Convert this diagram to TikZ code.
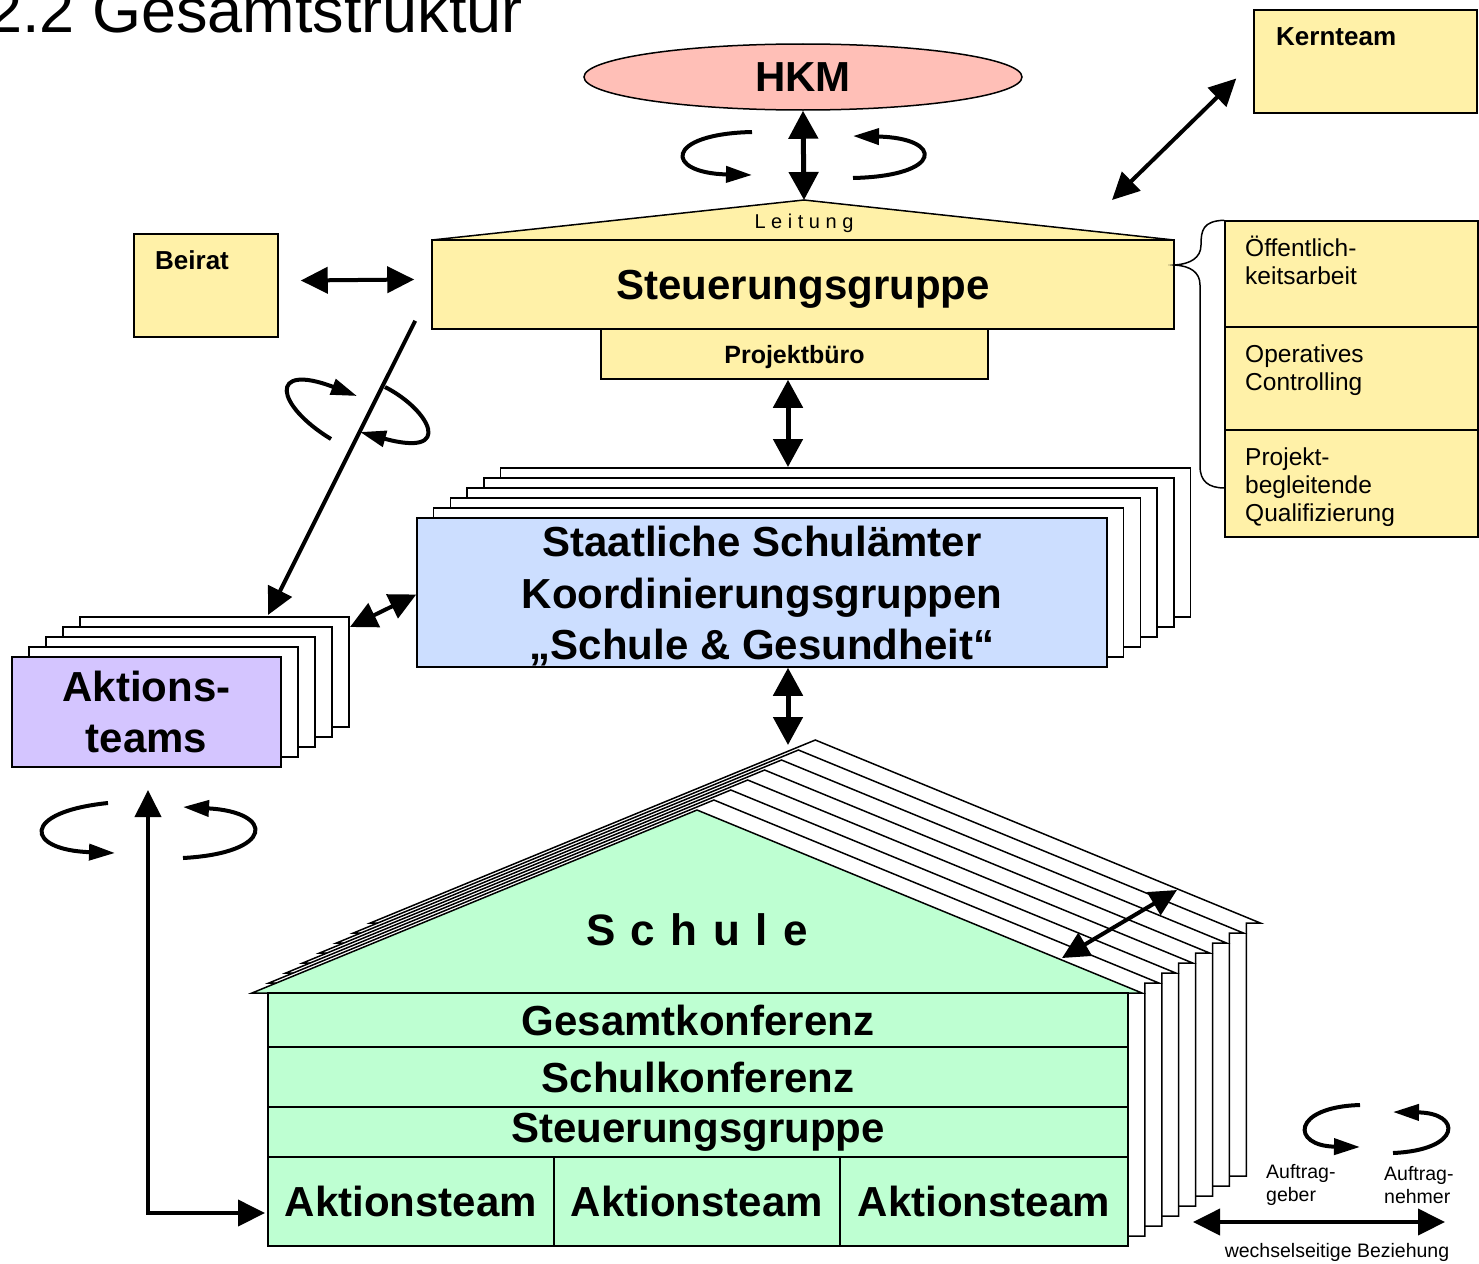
\documentclass[tikz,border=0pt]{standalone}
\usepackage{fontspec}
\setmainfont{Liberation Sans}
\usetikzlibrary{shapes.geometric, arrows.meta}

\definecolor{hkmred}{RGB}{255,191,183}
\definecolor{leityellow}{RGB}{255,241,168}
\definecolor{amtblue}{RGB}{204,222,255}
\definecolor{teamlilac}{RGB}{212,197,255}
\definecolor{schoolgreen}{RGB}{190,255,210}

\newcommand\bigbold{\fontsize{42}{51.5}\selectfont\bfseries}
\newcommand\smallbold{\fontsize{26}{30}\selectfont\bfseries}
\newcommand\plainsize{\fontsize{24.5}{28}\selectfont}
\newcommand\legendsize{\fontsize{19.5}{23.5}\selectfont}

\begin{document}
\begin{tikzpicture}[
    x=1pt, y=-1pt,
    box/.style={rectangle, draw, line width=1.5pt, inner sep=0pt, align=center},
    yellowbox/.style={box, fill=leityellow},
    stackbox/.style={box, fill=white},
    houserow/.style={box, fill=schoolgreen, minimum width=860pt, font=\bigbold},
    dbl/.style={line width=4pt, >={Triangle[length=27pt,width=26pt]}, <->},
    bigdbl/.style={line width=5pt, >={Triangle[length=28pt,width=29pt]}, <->},
    turn/.style={line width=4pt, -{Triangle[length=26pt,width=16pt]}}
]
\useasboundingbox (0,0) rectangle (1479,1263);
\clip (0,0) rectangle (1479,1263);

% Titel
\node[anchor=base west, inner sep=0pt, font=\fontsize{63}{70}\selectfont] (title) at (-13,33) {2.2 Gesamtstruktur};

% HKM und Leitung
\node[ellipse, draw, line width=1.5pt, fill=hkmred, minimum width=438pt, minimum height=66pt, inner sep=0pt, font=\bigbold] (hkm) at (803,77) {HKM};
\draw[line width=1.5pt, fill=leityellow] (432,240) -- (804,200) coordinate (leit) -- (1174,240) -- cycle;
\node[font=\fontsize{20}{24}\selectfont] (leitung) at (804,223) {L e i t u n g};
\node[yellowbox, minimum width=742pt, minimum height=89pt, text depth=0pt, font=\bigbold] (sg) at (803,284.5) {Steuerungsgruppe};
\node[yellowbox, minimum width=387pt, minimum height=50pt, text depth=0pt, font=\fontsize{25}{30}\selectfont\bfseries] (pb) at (794.5,354) {Projektbüro};

% Kernteam und Beirat
\node[yellowbox, minimum width=223pt, minimum height=103pt] (kern) at (1365.5,61.5) {};
\node[anchor=north west, inner sep=0pt, font=\smallbold] (kernlabel) at (1276,27) {Kernteam};
\node[yellowbox, minimum width=144pt, minimum height=103pt] (beirat) at (206,285.5) {};
\node[anchor=north west, inner sep=0pt, font=\smallbold] (beiratlabel) at (155,250) {Beirat};

% Aufgaben rechts
\node[yellowbox, minimum width=253pt, minimum height=106pt] (oeff) at (1351.5,274) {};
\node[yellowbox, minimum width=253pt, minimum height=103pt] (ctrl) at (1351.5,378.5) {};
\node[yellowbox, minimum width=253pt, minimum height=107pt] (qual) at (1351.5,483.5) {};
\node[anchor=north west, inner sep=0pt, align=left, font=\plainsize] (oefflabel) at (1245,236) {Öffentlich-\\keitsarbeit};
\node[anchor=north west, inner sep=0pt, align=left, font=\plainsize] (ctrllabel) at (1245,345) {Operatives\\Controlling};
\node[anchor=north west, inner sep=0pt, align=left, font=\plainsize] (quallabel) at (1245,448) {Projekt-\\begleitende\\Qualifizierung};
\draw[line width=1.5pt] (oeff.north west) .. controls (1203,221) and (1201,230) .. (1201,245)
    .. controls (1201,258) and (1190,264) .. (sg.east |- 0,265)
    .. controls (1190,266) and (1200,272) .. (1200,285) -- (1200,466)
    .. controls (1200,481) and (1208,488) .. (1225,488);

% Staatliche Schulaemter
\foreach \i in {5,...,1}
    \node[stackbox, minimum width=690pt, minimum height=149pt] (amt\i) at (762+16.7*\i, 592.5-10*\i) {};
\node[box, fill=amtblue, minimum width=690pt, minimum height=149pt, font=\bigbold] (amt) at (762,592.5) {\rule{0pt}{38pt}Staatliche Schulämter\\Koordinierungsgruppen\\„Schule \& Gesundheit“};

% Aktionsteams
\foreach \i in {4,...,1}
    \node[stackbox, minimum width=269pt, minimum height=110pt] (team\i) at (146.5+17*\i, 712-10*\i) {};
\node[box, fill=teamlilac, minimum width=269pt, minimum height=110pt, font=\bigbold] (team) at (146.5,712) {Aktions-\\teams};

% Schule
\foreach \i in {7,...,1}
    \draw[line width=1.5pt, fill=white, shift={(16.9*\i,-10*\i)}] (268,1246) -- (268,993) -- (252,993) -- (697,810) -- (1142,993) -- (1128,993) -- (1128,1246) -- cycle;
\draw[line width=1.5pt, fill=schoolgreen] (252,993) -- (697,810) coordinate (roof) -- (1142,993) -- cycle;
\node[font=\fontsize{44}{50}\selectfont\bfseries] (schule) at (697,930) {S\hspace{15.5pt}c\hspace{15.5pt}h\hspace{15.5pt}u\hspace{15.5pt}l\hspace{15.5pt}e};
\node[houserow, minimum height=54pt] (gk) at (698,1020) {Gesamtkonferenz};
\node[houserow, minimum height=60pt] (sk) at (698,1077) {Schulkonferenz};
\node[houserow, minimum height=50pt] (ssg) at (698,1132) {Steuerungsgruppe};
\node[box, fill=schoolgreen, minimum width=286pt, minimum height=89pt, font=\bigbold] (at1) at (411,1201.5) {Aktionsteam};
\node[box, fill=schoolgreen, minimum width=286pt, minimum height=89pt, font=\bigbold] (at2) at (697,1201.5) {Aktionsteam};
\node[box, fill=schoolgreen, minimum width=288pt, minimum height=89pt, font=\bigbold] (at3) at (984,1201.5) {Aktionsteam};

% Endpunkte
\coordinate (kernend) at (1112,200);
\coordinate (teamtop) at (268,615);
\coordinate (amttop) at (788,467);
\coordinate (housetop) at (788,745);
\coordinate (elbowtop) at (148,790);
\coordinate (elbowend) at (265,1213);

% Verbindungen
\draw[bigdbl] (hkm.south) -- (leit);
\draw[dbl] ([shift={(-17,17)}]kern.west) -- (kernend);
\draw[dbl] ([shift={(22,-5)}]beirat.east) -- ([shift={(-17,-5)}]sg.west);
\draw[line width=4pt, -{Triangle[length=27pt,width=26pt]}] ([shift={(-16,-9)}]sg.south west) -- (teamtop);
\draw[bigdbl] (pb.south -| amttop) -- (amttop);
\draw[bigdbl] (amt.south -| housetop) -- (housetop);
\draw[dbl] (350,627) -- ([yshift=-2]amt.west);
\draw[dbl] (1062,958) -- (1177,890);
\draw[dbl] (elbowtop) |- (elbowend);

% Wechselwirkungen
\draw[turn] (752,132) .. controls (664,134) and (664,173) .. (752,175);
\draw[turn] (853,178) .. controls (944,176) and (944,138) .. (853,136);
\draw[turn] (331,439) .. controls (275,405) and (268,362) .. (357,396);
\draw[turn] (385,387) .. controls (430,410) and (455,458) .. (360,432);
\draw[turn] (108,803) .. controls (20,812) and (25,850) .. (115,853);
\draw[turn] (183,858) .. controls (275,853) and (275,812) .. (183,807);

% Legende
\draw[turn] (1360,1105) .. controls (1291,1107) and (1291,1146) .. (1360,1147);
\draw[turn] (1393,1153) .. controls (1462,1150) and (1462,1113) .. (1393,1112);
\node[anchor=west, inner sep=0pt, align=left, font=\legendsize] (geber) at (1266,1185) {Auftrag-\\geber};
\node[anchor=west, inner sep=0pt, align=left, font=\legendsize] (nehmer) at (1384,1185) {Auftrag-\\nehmer};
\coordinate (legl) at (1193,1222);
\coordinate (legr) at (1445,1222);
\draw[dbl] (legl) -- (legr);
\node[font=\legendsize] (wechsel) at (1337,1252) {wechselseitige Beziehung};

\end{tikzpicture}
\end{document}
